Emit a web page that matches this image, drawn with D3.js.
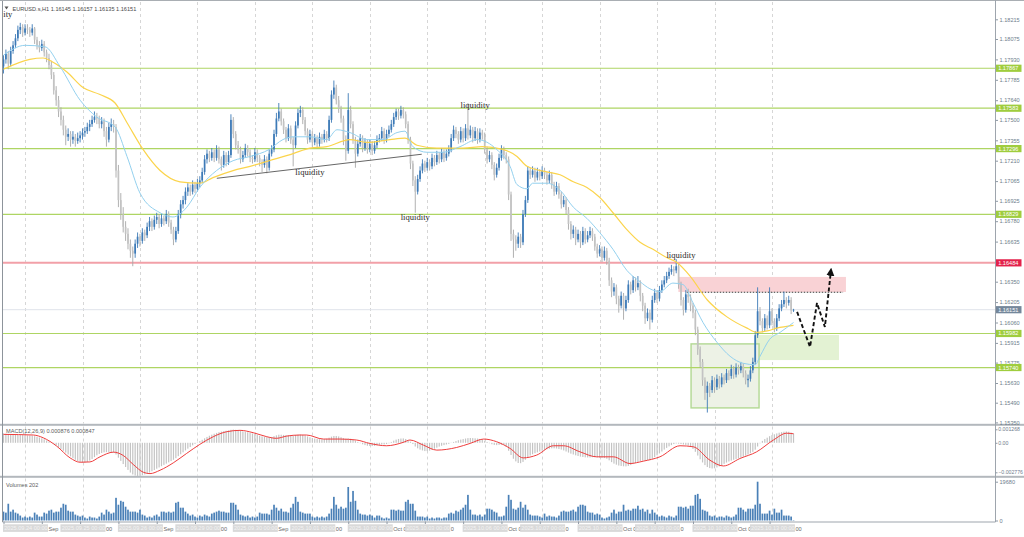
<!DOCTYPE html>
<html><head><meta charset="utf-8">
<script src="https://cdn.jsdelivr.net/npm/d3@7"></script>
<style>body{margin:0;background:#fff}svg{display:block}</style>
</head><body>
<svg id="chart" width="1024" height="537"></svg>
<script>
// ---------- DATA ----------
const symbolTitle = "EURUSD.s,H1 1.16145 1.16157 1.16135 1.16151";
// hourly candles [open, high, low, close]
const ohlc = [
[1.1788,1.1796,1.1783,1.1793],[1.1793,1.1800,1.1790,1.1797],[1.1797,1.1799,1.1786,1.1790],[1.1790,1.1802,1.1788,1.1799],[1.1799,1.1806,1.1797,1.1803],[1.1803,1.1811,1.1801,1.1808],[1.1808,1.1817,1.1806,1.1814],[1.1814,1.1819,1.1811,1.1816],[1.1816,1.1818,1.1809,1.1812],[1.1812,1.1818,1.1810,1.1815],
[1.1815,1.1818,1.1811,1.1814],[1.1814,1.1816,1.1809,1.1812],[1.1812,1.1818,1.1810,1.1815],[1.1815,1.1816,1.1804,1.1807],[1.1807,1.1809,1.1800,1.1803],[1.1803,1.1806,1.1798,1.1801],[1.1801,1.1807,1.1799,1.1804],[1.1804,1.1806,1.1795,1.1798],[1.1798,1.1800,1.1791,1.1794],[1.1794,1.1797,1.1786,1.1789],
[1.1789,1.1792,1.1779,1.1782],[1.1782,1.1784,1.1768,1.1771],[1.1771,1.1774,1.1760,1.1764],[1.1764,1.1767,1.1752,1.1756],[1.1756,1.1759,1.1746,1.1750],[1.1750,1.1753,1.1739,1.1743],[1.1743,1.1746,1.1732,1.1738],[1.1738,1.1744,1.1735,1.1740],[1.1740,1.1742,1.1731,1.1736],[1.1736,1.1742,1.1733,1.1738],
[1.1738,1.1740,1.1731,1.1735],[1.1735,1.1741,1.1733,1.1737],[1.1737,1.1742,1.1734,1.1739],[1.1739,1.1744,1.1736,1.1741],[1.1741,1.1745,1.1738,1.1742],[1.1742,1.1748,1.1740,1.1745],[1.1745,1.1750,1.1742,1.1747],[1.1747,1.1753,1.1745,1.1750],[1.1750,1.1756,1.1748,1.1752],[1.1752,1.1755,1.1747,1.1751],
[1.1751,1.1753,1.1744,1.1747],[1.1747,1.1752,1.1744,1.1749],[1.1749,1.1751,1.1738,1.1742],[1.1742,1.1745,1.1731,1.1736],[1.1736,1.1748,1.1734,1.1745],[1.1745,1.1751,1.1742,1.1747],[1.1747,1.1750,1.1741,1.1745],[1.1745,1.1747,1.1709,1.1714],[1.1714,1.1718,1.1688,1.1693],[1.1693,1.1698,1.1679,1.1683],
[1.1683,1.1688,1.1670,1.1674],[1.1674,1.1678,1.1664,1.1669],[1.1669,1.1673,1.1658,1.1662],[1.1662,1.1665,1.1652,1.1657],[1.1657,1.1660,1.1646,1.1655],[1.1655,1.1665,1.1652,1.1662],[1.1662,1.1670,1.1659,1.1667],[1.1667,1.1669,1.1660,1.1664],[1.1664,1.1673,1.1662,1.1670],[1.1670,1.1672,1.1664,1.1668],
[1.1668,1.1677,1.1666,1.1674],[1.1674,1.1681,1.1671,1.1678],[1.1678,1.1680,1.1671,1.1674],[1.1674,1.1682,1.1672,1.1679],[1.1679,1.1684,1.1676,1.1681],[1.1681,1.1683,1.1673,1.1676],[1.1676,1.1683,1.1674,1.1680],[1.1680,1.1682,1.1675,1.1678],[1.1678,1.1686,1.1676,1.1683],[1.1683,1.1685,1.1674,1.1677],
[1.1677,1.1679,1.1669,1.1672],[1.1672,1.1674,1.1661,1.1665],[1.1665,1.1674,1.1663,1.1671],[1.1671,1.1686,1.1669,1.1683],[1.1683,1.1693,1.1680,1.1690],[1.1690,1.1696,1.1687,1.1693],[1.1693,1.1702,1.1690,1.1699],[1.1699,1.1705,1.1696,1.1702],[1.1702,1.1704,1.1696,1.1699],[1.1699,1.1707,1.1697,1.1704],
[1.1704,1.1706,1.1698,1.1701],[1.1701,1.1708,1.1699,1.1705],[1.1705,1.1710,1.1702,1.1707],[1.1707,1.1716,1.1705,1.1713],[1.1713,1.1725,1.1711,1.1722],[1.1722,1.1729,1.1719,1.1726],[1.1726,1.1728,1.1720,1.1723],[1.1723,1.1730,1.1721,1.1727],[1.1727,1.1729,1.1720,1.1723],[1.1723,1.1732,1.1721,1.1729],
[1.1729,1.1731,1.1719,1.1722],[1.1722,1.1724,1.1714,1.1718],[1.1718,1.1728,1.1716,1.1725],[1.1725,1.1727,1.1717,1.1720],[1.1720,1.1728,1.1718,1.1725],[1.1725,1.1754,1.1723,1.1750],[1.1750,1.1752,1.1737,1.1740],[1.1740,1.1742,1.1729,1.1732],[1.1732,1.1735,1.1726,1.1729],[1.1729,1.1731,1.1719,1.1722],
[1.1722,1.1728,1.1720,1.1725],[1.1725,1.1733,1.1723,1.1730],[1.1730,1.1732,1.1724,1.1727],[1.1727,1.1729,1.1720,1.1723],[1.1723,1.1725,1.1719,1.1722],[1.1722,1.1730,1.1720,1.1727],[1.1727,1.1729,1.1720,1.1723],[1.1723,1.1725,1.1717,1.1720],[1.1720,1.1722,1.1713,1.1718],[1.1718,1.1725,1.1716,1.1722],
[1.1722,1.1724,1.1712,1.1716],[1.1716,1.1729,1.1714,1.1726],[1.1726,1.1732,1.1724,1.1729],[1.1729,1.1743,1.1727,1.1740],[1.1740,1.1755,1.1738,1.1751],[1.1751,1.1762,1.1749,1.1756],[1.1756,1.1758,1.1746,1.1749],[1.1749,1.1751,1.1740,1.1743],[1.1743,1.1745,1.1734,1.1737],[1.1737,1.1747,1.1735,1.1744],
[1.1744,1.1746,1.1733,1.1736],[1.1736,1.1738,1.1717,1.1732],[1.1732,1.1749,1.1730,1.1746],[1.1746,1.1758,1.1744,1.1755],[1.1755,1.1760,1.1752,1.1757],[1.1757,1.1759,1.1747,1.1750],[1.1750,1.1752,1.1739,1.1742],[1.1742,1.1744,1.1733,1.1736],[1.1736,1.1743,1.1734,1.1740],[1.1740,1.1742,1.1731,1.1734],
[1.1734,1.1740,1.1732,1.1737],[1.1737,1.1739,1.1730,1.1733],[1.1733,1.1741,1.1731,1.1738],[1.1738,1.1740,1.1733,1.1736],[1.1736,1.1743,1.1734,1.1740],[1.1740,1.1742,1.1734,1.1737],[1.1737,1.1753,1.1735,1.1750],[1.1750,1.1771,1.1748,1.1768],[1.1768,1.1778,1.1765,1.1773],[1.1773,1.1775,1.1761,1.1764],
[1.1764,1.1767,1.1755,1.1758],[1.1758,1.1760,1.1748,1.1751],[1.1751,1.1753,1.1732,1.1736],[1.1736,1.1739,1.1721,1.1728],[1.1728,1.1769,1.1726,1.1757],[1.1757,1.1760,1.1744,1.1747],[1.1747,1.1749,1.1733,1.1736],[1.1736,1.1738,1.1716,1.1726],[1.1726,1.1736,1.1724,1.1733],[1.1733,1.1740,1.1731,1.1737],
[1.1737,1.1739,1.1727,1.1730],[1.1730,1.1737,1.1728,1.1734],[1.1734,1.1736,1.1726,1.1729],[1.1729,1.1736,1.1727,1.1733],[1.1733,1.1735,1.1725,1.1728],[1.1728,1.1735,1.1726,1.1732],[1.1732,1.1739,1.1730,1.1736],[1.1736,1.1740,1.1734,1.1737],[1.1737,1.1745,1.1735,1.1742],[1.1742,1.1744,1.1733,1.1736],
[1.1736,1.1743,1.1734,1.1740],[1.1740,1.1746,1.1738,1.1743],[1.1743,1.1750,1.1741,1.1747],[1.1747,1.1755,1.1745,1.1752],[1.1752,1.1758,1.1750,1.1756],[1.1756,1.1758,1.1750,1.1753],[1.1753,1.1760,1.1751,1.1757],[1.1757,1.1759,1.1751,1.1754],[1.1754,1.1756,1.1744,1.1747],[1.1747,1.1749,1.1733,1.1736],
[1.1736,1.1738,1.1715,1.1719],[1.1719,1.1721,1.1703,1.1707],[1.1707,1.1710,1.1684,1.1699],[1.1699,1.1711,1.1697,1.1708],[1.1708,1.1717,1.1706,1.1714],[1.1714,1.1722,1.1712,1.1719],[1.1719,1.1721,1.1713,1.1716],[1.1716,1.1723,1.1714,1.1720],[1.1720,1.1722,1.1714,1.1717],[1.1717,1.1726,1.1715,1.1723],
[1.1723,1.1725,1.1717,1.1720],[1.1720,1.1728,1.1718,1.1725],[1.1725,1.1727,1.1719,1.1722],[1.1722,1.1730,1.1720,1.1727],[1.1727,1.1729,1.1720,1.1723],[1.1723,1.1729,1.1721,1.1726],[1.1726,1.1732,1.1724,1.1729],[1.1729,1.1740,1.1727,1.1737],[1.1737,1.1746,1.1735,1.1743],[1.1743,1.1745,1.1737,1.1740],
[1.1740,1.1742,1.1733,1.1736],[1.1736,1.1745,1.1734,1.1742],[1.1742,1.1744,1.1734,1.1737],[1.1737,1.1747,1.1735,1.1744],[1.1744,1.1762,1.1736,1.1739],[1.1739,1.1746,1.1737,1.1743],[1.1743,1.1745,1.1734,1.1737],[1.1737,1.1745,1.1735,1.1742],[1.1742,1.1744,1.1733,1.1736],[1.1736,1.1744,1.1734,1.1741],
[1.1741,1.1743,1.1736,1.1739],[1.1739,1.1741,1.1726,1.1729],[1.1729,1.1731,1.1719,1.1722],[1.1722,1.1728,1.1720,1.1725],[1.1725,1.1727,1.1715,1.1718],[1.1718,1.1720,1.1707,1.1711],[1.1711,1.1719,1.1709,1.1716],[1.1716,1.1726,1.1714,1.1723],[1.1723,1.1732,1.1721,1.1729],[1.1729,1.1731,1.1722,1.1725],
[1.1725,1.1727,1.1719,1.1722],[1.1722,1.1724,1.1693,1.1697],[1.1697,1.1699,1.1664,1.1669],[1.1669,1.1672,1.1652,1.1665],[1.1665,1.1668,1.1657,1.1662],[1.1662,1.1670,1.1659,1.1667],[1.1667,1.1669,1.1659,1.1663],[1.1663,1.1686,1.1661,1.1683],[1.1683,1.1696,1.1681,1.1693],[1.1693,1.1717,1.1691,1.1714],
[1.1714,1.1716,1.1708,1.1711],[1.1711,1.1717,1.1709,1.1714],[1.1714,1.1716,1.1706,1.1709],[1.1709,1.1716,1.1707,1.1713],[1.1713,1.1715,1.1707,1.1710],[1.1710,1.1717,1.1708,1.1714],[1.1714,1.1716,1.1708,1.1711],[1.1711,1.1713,1.1704,1.1707],[1.1707,1.1714,1.1705,1.1711],[1.1711,1.1713,1.1701,1.1704],
[1.1704,1.1706,1.1696,1.1699],[1.1699,1.1706,1.1697,1.1703],[1.1703,1.1705,1.1694,1.1697],[1.1697,1.1699,1.1687,1.1690],[1.1690,1.1696,1.1688,1.1693],[1.1693,1.1695,1.1683,1.1686],[1.1686,1.1688,1.1672,1.1676],[1.1676,1.1678,1.1665,1.1669],[1.1669,1.1675,1.1666,1.1672],[1.1672,1.1674,1.1661,1.1665],
[1.1665,1.1672,1.1663,1.1669],[1.1669,1.1671,1.1659,1.1663],[1.1663,1.1674,1.1661,1.1671],[1.1671,1.1673,1.1662,1.1665],[1.1665,1.1671,1.1663,1.1668],[1.1668,1.1674,1.1666,1.1671],[1.1671,1.1673,1.1664,1.1667],[1.1667,1.1669,1.1657,1.1660],[1.1660,1.1662,1.1652,1.1655],[1.1655,1.1661,1.1653,1.1658],
[1.1658,1.1660,1.1649,1.1652],[1.1652,1.1660,1.1650,1.1657],[1.1657,1.1659,1.1647,1.1650],[1.1650,1.1652,1.1632,1.1636],[1.1636,1.1638,1.1624,1.1628],[1.1628,1.1634,1.1625,1.1631],[1.1631,1.1633,1.1619,1.1623],[1.1623,1.1625,1.1613,1.1618],[1.1618,1.1628,1.1616,1.1625],[1.1625,1.1627,1.1608,1.1616],
[1.1616,1.1625,1.1614,1.1622],[1.1622,1.1636,1.1620,1.1633],[1.1633,1.1635,1.1626,1.1629],[1.1629,1.1639,1.1627,1.1636],[1.1636,1.1638,1.1628,1.1631],[1.1631,1.1639,1.1629,1.1634],[1.1634,1.1636,1.1621,1.1625],[1.1625,1.1627,1.1614,1.1618],[1.1618,1.1620,1.1605,1.1609],[1.1609,1.1616,1.1607,1.1613],
[1.1613,1.1615,1.1601,1.1608],[1.1608,1.1625,1.1606,1.1622],[1.1622,1.1630,1.1620,1.1627],[1.1627,1.1629,1.1620,1.1623],[1.1623,1.1632,1.1621,1.1629],[1.1629,1.1636,1.1627,1.1633],[1.1633,1.1639,1.1631,1.1636],[1.1636,1.1642,1.1634,1.1639],[1.1639,1.1645,1.1637,1.1642],[1.1642,1.1647,1.1640,1.1644],
[1.1644,1.1646,1.1639,1.1643],[1.1643,1.1651,1.1641,1.1646],[1.1646,1.1648,1.1630,1.1633],[1.1633,1.1635,1.1618,1.1622],[1.1622,1.1624,1.1611,1.1615],[1.1615,1.1629,1.1613,1.1626],[1.1626,1.1630,1.1620,1.1624],[1.1624,1.1626,1.1614,1.1618],[1.1618,1.1620,1.1609,1.1613],[1.1613,1.1615,1.1597,1.1601],
[1.1601,1.1603,1.1583,1.1587],[1.1587,1.1589,1.1574,1.1578],[1.1578,1.1580,1.1561,1.1565],[1.1565,1.1567,1.1551,1.1556],[1.1556,1.1564,1.1542,1.1561],[1.1561,1.1563,1.1553,1.1558],[1.1558,1.1568,1.1556,1.1565],[1.1565,1.1567,1.1556,1.1560],[1.1560,1.1569,1.1558,1.1566],[1.1566,1.1568,1.1559,1.1562],
[1.1562,1.1570,1.1560,1.1567],[1.1567,1.1569,1.1562,1.1565],[1.1565,1.1573,1.1563,1.1570],[1.1570,1.1572,1.1565,1.1568],[1.1568,1.1576,1.1566,1.1573],[1.1573,1.1575,1.1566,1.1569],[1.1569,1.1577,1.1567,1.1574],[1.1574,1.1576,1.1569,1.1572],[1.1572,1.1578,1.1570,1.1575],[1.1575,1.1577,1.1567,1.1570],
[1.1570,1.1572,1.1562,1.1565],[1.1565,1.1569,1.1560,1.1566],[1.1566,1.1575,1.1564,1.1572],[1.1572,1.1581,1.1570,1.1578],[1.1578,1.1600,1.1576,1.1597],[1.1597,1.1631,1.1595,1.1614],[1.1614,1.1617,1.1604,1.1607],[1.1607,1.1609,1.1599,1.1602],[1.1602,1.1612,1.1600,1.1609],[1.1609,1.1611,1.1601,1.1604],
[1.1604,1.1631,1.1602,1.1614],[1.1614,1.1616,1.1604,1.1607],[1.1607,1.1609,1.1599,1.1602],[1.1602,1.1612,1.1600,1.1609],[1.1609,1.1619,1.1607,1.1616],[1.1616,1.1622,1.1614,1.1619],[1.1619,1.1628,1.1617,1.1622],[1.1622,1.1624,1.1616,1.1620],[1.1620,1.1625,1.1618,1.1622],[1.1622,1.1624,1.1612,1.16145],
[1.16145,1.16157,1.16135,1.16151]
];
const volumes = [
4500,4000,8500,4500,5500,4000,3500,2500,1500,2000, 1500,2000,1500,4000,3000,2000,2000,4000,3500,5000,
5500,4000,4500,4500,6500,8500,8000,5000,4500,4500, 3000,2500,2000,2500,1500,1000,2000,1500,1500,1000,
2000,4000,3000,5500,4500,3500,4000,11500,8000,10000, 9500,7000,5500,4500,4500,4500,4000,5500,3000,2500,
1500,2000,1500,2500,3000,2000,4500,4500,4000,4500, 4000,4500,9000,9500,6500,6500,4500,3500,2500,3000,
2000,1500,2500,2000,3000,2500,2000,3500,4000,4500, 5000,4500,4500,4000,4000,9000,9000,8000,5500,3000,
2500,2000,2500,1500,2000,1500,2000,4000,3500,3500, 3500,3000,5500,8000,6500,5000,6000,4500,4500,4000,
6500,8500,12000,9500,4500,4000,3500,3500,3500,2000, 1500,2000,1500,2000,1500,2000,3500,6000,12000,8000,
6000,7000,6000,6500,17000,9500,15000,10000,5500,3500, 3000,3000,2500,3000,2500,1500,2500,2500,1500,1000,
1500,1000,5500,5500,5000,5500,5000,5000,9500,10500, 8500,8500,5000,2000,2000,2000,1500,2000,1000,1500,
1000,1500,1500,1000,1500,1500,3500,4000,3500,5000, 4500,5500,6500,8000,13000,5500,3000,3000,2500,3000,
2000,3000,6000,6000,5500,4500,4000,2000,2000,2500, 7000,13000,10500,6000,5500,6500,9500,6500,8000,5500,
3000,2500,2500,2500,2000,1500,3500,2000,2500,2000, 2000,1500,2500,4500,5000,4500,4500,5000,5500,4500,
7000,8000,8000,7500,4500,4000,4000,3000,3500,3000, 1500,1000,1500,2000,4000,5500,3500,4500,4500,8000,
5000,5500,5000,6000,6000,7500,5500,6000,4500,5500, 3500,5500,4000,3000,2000,2500,2000,1500,2500,2000,
1500,2500,7000,7000,6500,7000,6000,7500,7500,13000, 13500,11000,5500,5000,4500,2500,2000,2500,1500,2000,
2000,1500,2500,2000,1500,2000,3000,6500,6500,5500, 4500,6000,6000,6000,8000,19680,8500,3500,3500,3500,
5000,3000,6000,4000,4000,5500,2500,2500,2500,2000, 202
];
const macdHist = [
0.00088,0.00085,0.00083,0.00080,0.00078,0.00076,0.00075,0.00074,0.00072,0.00070,
0.00069,0.00068,0.00066,0.00062,0.00056,0.00050,0.00042,0.00033,0.00022,0.00012,
0.00002,-0.00010,-0.00024,-0.00040,-0.00058,-0.00075,-0.00092,-0.00110,-0.00128,-0.00145,
-0.00160,-0.00172,-0.00180,-0.00185,-0.00186,-0.00180,-0.00168,-0.00152,-0.00135,-0.00118,
-0.00105,-0.00096,-0.00090,-0.00088,-0.00086,-0.00088,-0.00092,-0.00110,-0.00140,-0.00170,
-0.00200,-0.00228,-0.00255,-0.00280,-0.00298,-0.00308,-0.00312,-0.00310,-0.00305,-0.00298,
-0.00290,-0.00280,-0.00268,-0.00256,-0.00244,-0.00232,-0.00220,-0.00208,-0.00196,-0.00184,
-0.00172,-0.00160,-0.00145,-0.00126,-0.00108,-0.00090,-0.00072,-0.00055,-0.00040,-0.00024,
-0.00010,0.00004,0.00016,0.00028,0.00042,0.00055,0.00066,0.00076,0.00085,0.00093,
0.00100,0.00105,0.00110,0.00113,0.00116,0.00122,0.00124,0.00122,0.00118,0.00112,
0.00107,0.00102,0.00098,0.00093,0.00088,0.00082,0.00074,0.00066,0.00060,0.00055,
0.00052,0.00052,0.00055,0.00062,0.00070,0.00076,0.00076,0.00074,0.00072,0.00071,
0.00069,0.00070,0.00073,0.00076,0.00077,0.00074,0.00068,0.00060,0.00052,0.00045,
0.00040,0.00036,0.00034,0.00033,0.00034,0.00038,0.00048,0.00058,0.00064,0.00064,
0.00060,0.00052,0.00044,0.00038,0.00040,0.00038,0.00030,0.00020,0.00008,-0.00004,
-0.00014,-0.00022,-0.00028,-0.00030,-0.00031,-0.00029,-0.00024,-0.00019,-0.00016,-0.00015,
-0.00012,-0.00005,0.00008,0.00020,0.00030,0.00036,0.00040,0.00041,0.00036,0.00026,
0.00010,-0.00012,-0.00035,-0.00052,-0.00064,-0.00072,-0.00078,-0.00078,-0.00074,-0.00066,
-0.00056,-0.00046,-0.00036,-0.00028,-0.00022,-0.00016,-0.00010,-0.00002,0.00008,0.00016,
0.00024,0.00030,0.00035,0.00040,0.00044,0.00045,0.00044,0.00042,0.00040,0.00036,
0.00030,0.00020,0.00008,-0.00004,-0.00014,-0.00020,-0.00022,-0.00020,-0.00018,-0.00020,
-0.00040,-0.00075,-0.00115,-0.00150,-0.00175,-0.00190,-0.00192,-0.00180,-0.00160,-0.00135,
-0.00120,-0.00108,-0.00098,-0.00090,-0.00082,-0.00074,-0.00066,-0.00060,-0.00056,-0.00052,
-0.00052,-0.00054,-0.00058,-0.00064,-0.00072,-0.00082,-0.00092,-0.00102,-0.00110,-0.00118,
-0.00124,-0.00130,-0.00134,-0.00137,-0.00138,-0.00138,-0.00136,-0.00136,-0.00138,-0.00140,
-0.00142,-0.00144,-0.00150,-0.00165,-0.00182,-0.00196,-0.00206,-0.00214,-0.00218,-0.00221,
-0.00222,-0.00218,-0.00210,-0.00200,-0.00190,-0.00180,-0.00172,-0.00168,-0.00166,-0.00164,
-0.00160,-0.00150,-0.00135,-0.00118,-0.00100,-0.00082,-0.00064,-0.00048,-0.00034,-0.00022,
-0.00012,-0.00006,-0.00008,-0.00012,-0.00016,-0.00020,-0.00026,-0.00040,-0.00058,-0.00085,
-0.00120,-0.00155,-0.00185,-0.00210,-0.00228,-0.00238,-0.00242,-0.00240,-0.00232,-0.00222,
-0.00210,-0.00198,-0.00186,-0.00176,-0.00168,-0.00160,-0.00152,-0.00145,-0.00138,-0.00130,
-0.00120,-0.00110,-0.00098,-0.00085,-0.00065,-0.00035,-0.00005,0.00018,0.00035,0.00048,
0.00062,0.00072,0.00080,0.00088,0.00095,0.00100,0.00104,0.00106,0.00104,0.00096,
0.000876
];
// MACD signal line read at [bar, value]
const macdSignal = [[0,0.00079],[12.5,0.00073],[16.6,0.00047],[22.2,-0.00031],[27.8,-0.00142],[32,-0.00183],[36.1,-0.0018],[40.3,-0.00132],[45.9,-0.00088],[50,-0.00119],[54.2,-0.00204],[58.4,-0.00277],[61.2,-0.0029],[65.4,-0.00258],[70.9,-0.00189],[76.5,-0.001],[82,-0.00015],[87.6,0.00057],[93.2,0.00104],[98.8,0.00117],[104.3,0.00095],[110,0.00057],[114,0.00042],[118.3,0.00063],[123.8,0.00073],[126.6,0.00073],[133.6,0.00035],[140.6,0.00035],[147.5,0.00026],[153,-0.00006],[160,-0.00028],[167,0.00004],[169.8,0.00026],[175.4,-0.00022],[181,-0.00069],[189.3,-0.00044],[194.9,-0.00006],[200.6,0.00035],[206,0.0001],[211.6,-0.00053],[217.1,-0.00142],[222.7,-0.00116],[229.7,-0.00028],[233.9,-0.00028],[240.8,-0.00085],[247.8,-0.00132],[254.7,-0.00132],[261.7,-0.00195],[267.2,-0.00173],[274.2,-0.00132],[282.6,-0.00028],[288.2,-0.00038],[295.1,-0.00164],[300.7,-0.00218],[307.6,-0.00148],[314.6,-0.00085],[321.6,0.00026],[327.1,0.0009],[330,0.000847]];
// moving averages read at [bar, price]
const maFast = [[0,1.1796],[9,1.1803],[17.3,1.1802],[23.6,1.1788],[32,1.1764],[39,1.1752],[46.6,1.1745],[51.6,1.1724],[57,1.1698],[65.4,1.1684],[70.8,1.1681],[76.6,1.1688],[82,1.1702],[89,1.1714],[95.9,1.1721],[103,1.1724],[111,1.1729],[116.7,1.1736],[121,1.1738],[128,1.1738],[135,1.1736],[139.3,1.1743],[144.7,1.1741],[151.8,1.1736],[158.5,1.1736],[164.4,1.1741],[167.7,1.1742],[171,1.1731],[176.9,1.1727],[183.6,1.1727],[190.7,1.1731],[197.8,1.1736],[206,1.1729],[211.6,1.1717],[214.5,1.1704],[218.7,1.1701],[221,1.1705],[227,1.1705],[232.5,1.1700],[238,1.1688],[243.7,1.1680],[249,1.1670],[254.6,1.1658],[260.4,1.1643],[265.9,1.1635],[270,1.1630],[274.2,1.1628],[279.6,1.1634],[283.8,1.1633],[288,1.1620],[292.2,1.1606],[298,1.1592],[303.5,1.1582],[309,1.1577],[314,1.1576],[316,1.1582],[320,1.1594],[324.4,1.1599],[330,1.1606]];
const maSlow = [[0,1.1786],[11,1.1793],[16.5,1.1794],[20.7,1.1791],[26.5,1.1784],[33.2,1.1773],[40.3,1.1768],[46.6,1.1762],[51.6,1.1748],[58.3,1.1729],[65.4,1.1714],[73.7,1.1706],[82,1.1705],[87.5,1.1709],[95.9,1.1714],[103,1.1717],[111,1.1721],[121,1.1726],[128,1.1730],[135,1.1731],[144.7,1.1736],[151.8,1.1734],[161.4,1.1736],[167.7,1.1737],[172.7,1.1732],[181,1.1730],[192,1.1730],[200,1.1731],[208.6,1.1729],[214.5,1.1724],[218.7,1.1717],[227,1.1713],[232.5,1.1711],[238,1.1706],[243.7,1.1702],[249,1.1695],[254.6,1.1684],[260.4,1.1672],[265.9,1.1663],[271.3,1.1658],[277.2,1.1652],[281,1.1649],[286.8,1.1639],[294,1.1622],[302.2,1.1610],[310.6,1.1602],[314.8,1.1599],[319,1.1600],[323,1.1602],[330,1.1604]];
const priceTicks = [1.18215,1.18075,1.17930,1.17785,1.17640,1.17500,1.17355,1.17210,1.17065,1.16925,1.16780,1.16635,1.16490,1.16350,1.16205,1.16060,1.15915,1.15775,1.15630,1.15490,1.15350];
const greenLevels = [1.17867,1.17583,1.17296,1.16829,1.15982,1.15740];
const redLevel = 1.16484;
const lastPrice = 1.16151;
const macdTicks = [0.001268, 0, -0.002776];
const volTicks = [19680, 0];
const dayLabels = ["2025.09.24 00:00","2025.09.25 00:00","2025.09.26 00:00","2025.09.29 00:00","2025.09.30 00:00","2025.10.01 00:00","2025.10.02 00:00","2025.10.03 00:00","2025.10.06 00:00","2025.10.07 00:00","2025.10.08 00:00","2025.10.09 00:00","2025.10.10 00:00","2025.10.13 00:00"];
const axisFragments = ["Sep","00","Sep","00","Sep","00","Oct 0","0","Oct 0","0","Oct 0","0","Oct 0","00"];
// the first note is the visible tail of a label that runs off the left edge
const notes = [{bar:-0.1,price:1.18228,text:"ity",anchor:"start"},{bar:128,price:1.17105,text:"liquidity"},{bar:172,price:1.16785,text:"liquidity"},{bar:197,price:1.17588,text:"liquidity"},{bar:283,price:1.16515,text:"liquidity"}];
const trendLine = [[89.1,1.17085],[174.7,1.17256]];
const redZone = {b0:281.9,b1:351.9,p0:1.16277,p1:1.16384};
const dottedLevel = {b0:285.4,b1:350.7,p:1.16275};
const greenBox = {b0:287.2,b1:315.6,p0:1.15453,p1:1.15908};
const greenZone = {b0:313.9,b1:349,p0:1.15793,p1:1.15971};
const forecastPath = [[331.5,1.16135],[336.9,1.15886],[339.8,1.16199],[343.1,1.16028],[345.6,1.16426]];

// ---------- DRAW ----------
const svg = d3.select('#chart');
const FONT = 'Liberation Sans, Arial, sans-serif';
const N = ohlc.length;
const x = d3.scaleLinear().domain([0, 330]).range([3.5, 3.5 + 330 * 2.394]);
const yP = d3.scaleLinear().domain([1.15350, 1.18215]).range([422.4, 19.3]);
const yM = d3.scaleLinear().domain([-0.002776, 0.001268]).range([472.3, 429.3]);
const yV = d3.scaleLinear().domain([0, 19680]).range([520.5, 481.7]);
const px = v => Math.round(v) + 0.5;

svg.append('rect').attr('width', 1024).attr('height', 537).attr('fill', '#fff');
const defs = svg.append('defs');
defs.append('clipPath').attr('id', 'cMain').append('rect').attr('x', 3).attr('y', 1).attr('width', 992).attr('height', 422.5);
defs.append('marker').attr('id', 'ah').attr('viewBox', '0 0 10 10').attr('refX', 6).attr('refY', 5)
  .attr('markerWidth', 4.2).attr('markerHeight', 4.6).attr('orient', 'auto')
  .append('path').attr('d', 'M0,0 L10,5 L0,10 z').attr('fill', '#111');

// vertical dashed grid
const gridBars = d3.range(9, N, 24);
[[2, 423.5], [426.5, 475.5], [478.5, 521]].forEach(([a, b]) => {
  svg.append('g').selectAll('line').data(gridBars).join('line')
    .attr('x1', d => px(x(d))).attr('x2', d => px(x(d))).attr('y1', a).attr('y2', b)
    .attr('stroke', '#d6d6d6').attr('stroke-dasharray', '3,3');
});

const main = svg.append('g').attr('clip-path', 'url(#cMain)');
// zones
main.append('rect').attr('x', x(redZone.b0)).attr('width', x(redZone.b1) - x(redZone.b0))
  .attr('y', yP(redZone.p1)).attr('height', yP(redZone.p0) - yP(redZone.p1)).attr('fill', '#f9d2d5');
main.append('rect').attr('x', x(greenZone.b0)).attr('width', x(greenZone.b1) - x(greenZone.b0))
  .attr('y', yP(greenZone.p1)).attr('height', yP(greenZone.p0) - yP(greenZone.p1)).attr('fill', '#e3f2d3');
main.append('rect').attr('x', x(greenBox.b0)).attr('width', x(greenBox.b1) - x(greenBox.b0))
  .attr('y', yP(greenBox.p1)).attr('height', yP(greenBox.p0) - yP(greenBox.p1))
  .attr('fill', '#edf2e6').attr('stroke', '#b2d893').attr('stroke-width', 1.4);

// horizontal levels
main.selectAll('.gl').data(greenLevels).join('line').attr('class', 'gl')
  .attr('x1', 3).attr('x2', 995).attr('y1', d => yP(d)).attr('y2', d => yP(d))
  .attr('stroke', '#aed563').attr('stroke-width', 1.2);
main.append('line').attr('x1', 3).attr('x2', 995).attr('y1', yP(redLevel)).attr('y2', yP(redLevel))
  .attr('stroke', '#f2a0a8').attr('stroke-width', 2);
main.append('line').attr('x1', 3).attr('x2', 995).attr('y1', yP(lastPrice)).attr('y2', yP(lastPrice))
  .attr('stroke', '#dfe3ea').attr('stroke-width', 1);
main.append('line').attr('x1', x(dottedLevel.b0)).attr('x2', x(dottedLevel.b1))
  .attr('y1', yP(dottedLevel.p)).attr('y2', yP(dottedLevel.p))
  .attr('stroke', '#222').attr('stroke-width', 0.9).attr('stroke-dasharray', '1.5,1.5');

// candles
const bull = d => d[3] >= d[0];
main.append('g').selectAll('line').data(ohlc).join('line')
  .attr('x1', (d, i) => x(i)).attr('x2', (d, i) => x(i))
  .attr('y1', d => yP(d[1])).attr('y2', d => yP(d[2]))
  .attr('stroke', d => bull(d) ? '#3d7ab7' : '#a8a8a8').attr('stroke-width', 0.9);
main.append('g').selectAll('rect').data(ohlc).join('rect')
  .attr('x', (d, i) => x(i) - 0.85).attr('width', 1.7)
  .attr('y', d => yP(Math.max(d[0], d[3])))
  .attr('height', d => Math.max(0.8, Math.abs(yP(d[0]) - yP(d[3]))))
  .attr('fill', d => bull(d) ? '#3d7ab7' : '#c3c3c3');

// moving averages
const lineP = d3.line().x(d => x(d[0])).y(d => yP(d[1])).curve(d3.curveMonotoneX);
main.append('path').attr('d', lineP(maSlow)).attr('fill', 'none').attr('stroke', '#fbd44c').attr('stroke-width', 1.2);
main.append('path').attr('d', lineP(maFast)).attr('fill', 'none').attr('stroke', '#93d0ee').attr('stroke-width', 1);

// trend line
main.append('path').attr('d', d3.line().x(d => x(d[0])).y(d => yP(d[1]))(trendLine))
  .attr('stroke', '#666').attr('stroke-width', 1).attr('fill', 'none');

// notes
main.selectAll('.note').data(notes).join('text').attr('class', 'note')
  .attr('x', d => x(d.bar)).attr('y', d => yP(d.price)).attr('text-anchor', d => d.anchor || 'middle')
  .attr('font-family', 'Liberation Serif, Times New Roman, serif').attr('font-size', 8.6)
  .attr('fill', '#2a2a2a').text(d => d.text);

// forecast arrow
main.append('path').attr('d', d3.line().x(d => x(d[0])).y(d => yP(d[1]))(forecastPath))
  .attr('fill', 'none').attr('stroke', '#111').attr('stroke-width', 1.9)
  .attr('stroke-dasharray', '4,2.5').attr('marker-end', 'url(#ah)');

// header
svg.append('path').attr('d', 'M4.5,6.5 L8.5,6.5 L6.5,9.5 Z').attr('fill', '#555');
svg.append('text').attr('x', 12.5).attr('y', 10.5).attr('font-family', FONT).attr('font-size', 5.6)
  .attr('fill', '#4a4a4a').text(symbolTitle);

// MACD
const gm = svg.append('g');
gm.selectAll('rect').data(macdHist).join('rect')
  .attr('x', (d, i) => x(i) - 0.6).attr('width', 1.2)
  .attr('y', d => yM(Math.max(0, d))).attr('height', d => Math.abs(yM(d) - yM(0)))
  .attr('fill', '#c4c4c4');
gm.append('path').attr('d', d3.line().x(d => x(d[0])).y(d => yM(d[1])).curve(d3.curveMonotoneX)(macdSignal))
  .attr('fill', 'none').attr('stroke', '#ef3d3d').attr('stroke-width', 1);
svg.append('text').attr('x', 6).attr('y', 433).attr('font-family', FONT).attr('font-size', 5.6)
  .attr('fill', '#606060').text('MACD(12,26,9) 0.000876 0.000847');

// volumes
svg.append('g').selectAll('rect').data(volumes).join('rect')
  .attr('x', (d, i) => x(i) - 0.85).attr('width', 1.7)
  .attr('y', d => yV(d)).attr('height', d => yV(0) - yV(d)).attr('fill', '#4a80b7');
svg.append('text').attr('x', 6).attr('y', 487).attr('font-family', FONT).attr('font-size', 5.6)
  .attr('fill', '#606060').text('Volumes 202');

// frames & separators
svg.append('rect').attr('x', 0).attr('y', 423.8).attr('width', 1024).attr('height', 2).attr('fill', '#b3b8bd');
svg.append('rect').attr('x', 0).attr('y', 475.8).attr('width', 1024).attr('height', 2).attr('fill', '#b3b8bd');
svg.append('line').attr('x1', 2.5).attr('x2', 2.5).attr('y1', 0).attr('y2', 522).attr('stroke', '#8d949b');
svg.append('line').attr('x1', 0).attr('x2', 1024).attr('y1', 0.5).attr('y2', 0.5).attr('stroke', '#a9aeb3');
svg.append('line').attr('x1', 995.5).attr('x2', 995.5).attr('y1', 0).attr('y2', 522).attr('stroke', '#9ea5ad');

// right axes
const styleAxis = (fs) => g => {
  g.attr('font-family', FONT).attr('font-size', fs);
  g.select('.domain').remove();
  g.selectAll('line').attr('stroke', '#8e99a5');
  g.selectAll('text').attr('fill', '#6f7d8c');
};
svg.append('g').attr('transform', 'translate(995.5,0)')
  .call(d3.axisRight(yP).tickValues(priceTicks).tickFormat(d3.format('.5f')).tickSize(2.5).tickPadding(1.5)).call(styleAxis(5.6));
svg.append('g').attr('transform', 'translate(995.5,0)')
  .call(d3.axisRight(yM).tickValues(macdTicks).tickFormat(d => d === 0 ? '0.00' : d3.format('.6f')(d)).tickSize(2).tickPadding(0.8)).call(styleAxis(5.2));
svg.append('g').attr('transform', 'translate(995.5,0)')
  .call(d3.axisRight(yV).tickValues(volTicks).tickFormat(d3.format('d')).tickSize(2.5).tickPadding(1.5)).call(styleAxis(5.6));

// level price tags
const tag = (p, bg) => {
  const g = svg.append('g').attr('transform', `translate(996,${yP(p)})`);
  g.append('rect').attr('x', 0).attr('y', -3.6).attr('width', 25.5).attr('height', 7.2).attr('fill', bg);
  g.append('text').attr('x', 2.2).attr('y', 2).attr('font-family', FONT).attr('font-size', 5.6)
    .attr('fill', '#fff').text(d3.format('.5f')(p));
};
greenLevels.forEach(p => tag(p, '#9fcd3e'));
tag(redLevel, '#e3224b');
tag(lastPrice, '#74879b');

// bottom time axis
svg.append('g').attr('transform', 'translate(0,521.5)')
  .call(d3.axisBottom(x).tickValues(d3.range(0, N, 16)).tickSize(2.5).tickFormat(''))
  .call(g => { g.select('.domain').attr('stroke', '#9ea5ad').attr('d', 'M2.5,0.5H995.5'); g.selectAll('line').attr('stroke', '#8e99a5'); });
const dayBars = d3.range(0, N, 24);
svg.append('g').selectAll('text').data(dayBars).join('text')
  .attr('x', d => x(d) + 45).attr('y', 530.5).attr('font-family', FONT).attr('font-size', 5.6)
  .attr('fill', '#6a6a6a').text((d, i) => axisFragments[i]);
const boxes = svg.append('g').selectAll('g').data(dayBars).join('g')
  .attr('transform', d => `translate(${x(d) - 0.5},524.3)`);
boxes.append('rect').attr('width', 45).attr('height', 7.6).attr('fill', '#d9d9d9');
boxes.append('text').attr('x', 1.2).attr('y', 5.9).attr('font-family', FONT).attr('font-size', 5.6)
  .attr('fill', '#f3f3f3').text((d, i) => dayLabels[i]);
</script>
</body></html>
